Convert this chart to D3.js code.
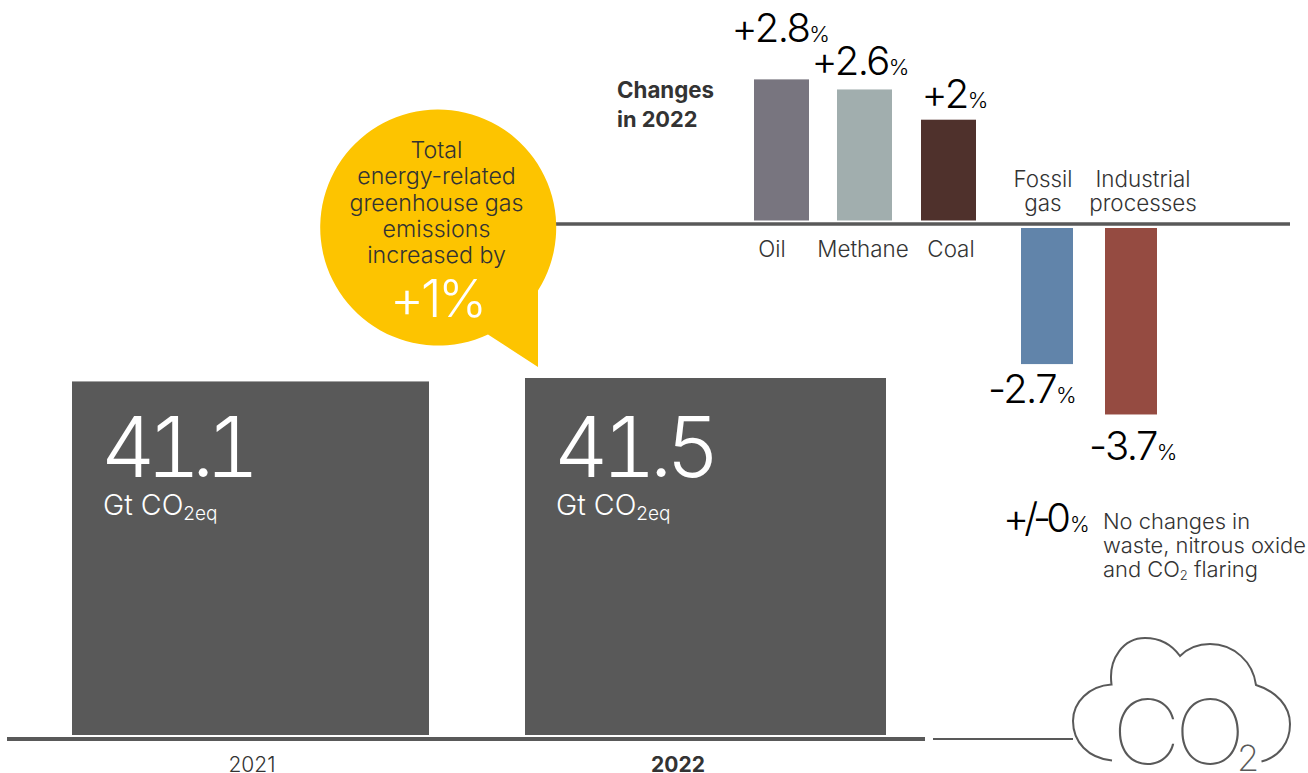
<!DOCTYPE html>
<html><head><meta charset="utf-8">
<script src="https://cdn.jsdelivr.net/npm/d3@7"></script>
<style>html,body{margin:0;background:#fff}svg{display:block}text{font-family:Inter,sans-serif}</style>
</head><body><svg id="c" width="1308" height="773"></svg>
<script>
const years=["2021","2022"];
const totals=[41.1,41.5];
const changeCats=["Oil","Methane","Coal","Fossil gas","Industrial processes"];
const changeVals=[2.8,2.6,2,-2.7,-3.7];
const changeLabels=["+2.8","+2.6","+2","-2.7","-3.7"];
const changeColors=["#78757f","#a1aeae","#4f312c","#6184aa","#954b41"];
const dark="#595959", ink="#333333";
const svg=d3.select("#c");

// main bars
const yMain=d3.scaleLinear().domain([0,41.5]).range([735,378]);
const barX=[[72,429],[525,886]];
const bigSpacing=[-9,-6.5];
svg.selectAll("rect.main").data(totals).join("rect").attr("class","main")
 .attr("x",(d,i)=>barX[i][0]).attr("width",(d,i)=>barX[i][1]-barX[i][0])
 .attr("y",d=>yMain(d)).attr("height",d=>yMain(0)-yMain(d)).attr("fill",dark);
totals.forEach((v,i)=>{
 const x=barX[i][0]+31;
 svg.append("text").attr("x",x-2).attr("y",477).attr("font-size",84).attr("font-weight",300).attr("style","font-variant-numeric:tabular-nums").attr("letter-spacing",bigSpacing[i]).attr("fill","#fff").text(v.toFixed(1));
 const t=svg.append("text").attr("x",x).attr("y",515).attr("font-size",28.6).attr("font-weight",300).attr("fill","#fff");
 t.append("tspan").text("Gt CO");
 t.append("tspan").attr("font-size",19).attr("dy",5).text("2eq");
});
svg.append("line").attr("x1",7).attr("x2",925).attr("y1",739).attr("y2",739).attr("stroke",dark).attr("stroke-width",4);
svg.append("line").attr("x1",933).attr("x2",1073).attr("y1",739).attr("y2",739).attr("stroke",dark).attr("stroke-width",2);
svg.append("text").attr("x",252).attr("y",772).attr("text-anchor","middle").attr("font-size",21).attr("font-weight",300).attr("fill",ink).text(years[0]);
svg.append("text").attr("x",678).attr("y",772).attr("text-anchor","middle").attr("font-size",21).attr("font-weight",700).attr("fill",ink).text(years[1]);

// change chart
svg.append("line").attr("x1",556).attr("x2",1290).attr("y1",224).attr("y2",224).attr("stroke",dark).attr("stroke-width",3.5);
const h=d3.scaleLinear().domain([0,1]).range([0,50.4]);
const cx=[[754,809],[837,892],[921,976],[1021,1073],[1105,1157]];
svg.selectAll("rect.ch").data(changeVals).join("rect").attr("class","ch")
 .attr("x",(d,i)=>cx[i][0]).attr("width",(d,i)=>cx[i][1]-cx[i][0])
 .attr("y",d=>d>0?220.5-h(d):228).attr("height",d=>h(Math.abs(d)))
 .attr("fill",(d,i)=>changeColors[i]);
const labelPos=[[731.5,42],[811.5,75],[921.5,108],[988,403],[1089,460]];
changeLabels.forEach((s,i)=>{
 const t=svg.append("text").attr("x",labelPos[i][0]).attr("y",labelPos[i][1]).attr("font-size",40).attr("font-weight",300).attr("fill","#000");
 t.append("tspan").attr("letter-spacing",-1.6).text(s);
 t.append("tspan").attr("font-size",22).text("%");
});
const small=(x,y,s,anchor="middle",fs=22.4)=>svg.append("text").attr("x",x).attr("y",y).attr("text-anchor",anchor).attr("font-size",fs).attr("font-weight",300).attr("fill",ink).text(s);
small(772,257,"Oil");small(863,257,"Methane");small(951,257,"Coal");
small(1043,187,"Fossil");small(1043,211,"gas");
small(1143,187,"Industrial");small(1143,211,"processes");
svg.append("text").attr("x",617).attr("y",98).attr("font-size",22.3).attr("font-weight",700).attr("fill",ink).text("Changes");
svg.append("text").attr("x",617).attr("y",127).attr("font-size",21.8).attr("font-weight",700).attr("fill",ink).text("in 2022");

// no change note
const nc=svg.append("text").attr("x",1003).attr("y",532).attr("font-size",40).attr("font-weight",300).attr("fill","#000");
nc.append("tspan").attr("letter-spacing",-5).text("+/-0");nc.append("tspan").attr("font-size",21).attr("dx",4).text("%");
small(1103,529,"No changes in","start",21.9);small(1103,553,"waste, nitrous oxide","start",21.9);
const fl=small(1103,577,"and CO","start",21.9);
fl.append("tspan").attr("font-size",13).attr("dy",3).text("2");
fl.append("tspan").attr("dy",-3).text(" flaring");

// bubble
svg.append("path").attr("d","M538 290.5 A118 118 0 1 0 488 334.5 L538 367 Z").attr("fill","#fdc400");
["Total","energy-related","greenhouse gas","emissions","increased by"].forEach((s,i)=>{
 svg.append("text").attr("x",436.5).attr("y",158+i*26.3).attr("text-anchor","middle").attr("font-size",23.2).attr("font-weight",300).attr("fill",ink).text(s);
});
svg.append("text").attr("x",437).attr("y",317).attr("text-anchor","middle").attr("font-size",52).attr("font-weight",300).attr("letter-spacing",-3).attr("fill","#fff").text("+1%");

// cloud icon
svg.append("path").attr("d","M1112 760.5 C1088 758 1073 742 1073 721 C1073 702 1089 686 1111.5 684.5 C1108 658 1124 638 1145 638 C1160 638 1172 645 1180 656 C1188 648 1198 644 1210 644 C1234 644 1253 662 1256 685 C1276 691 1290 706 1290 724 C1290 743 1279 757 1261.5 761.5")
 .attr("fill","none").attr("stroke",dark).attr("stroke-width",2);
svg.append("text").attr("transform","translate(1112,764) scale(1.06,1)").attr("font-size",90).attr("font-weight",100).attr("letter-spacing",-6).attr("fill",dark).text("CO");
svg.append("text").attr("x",1237).attr("y",771).attr("font-size",36).attr("font-weight",200).attr("fill",dark).text("2");
</script></body></html>
